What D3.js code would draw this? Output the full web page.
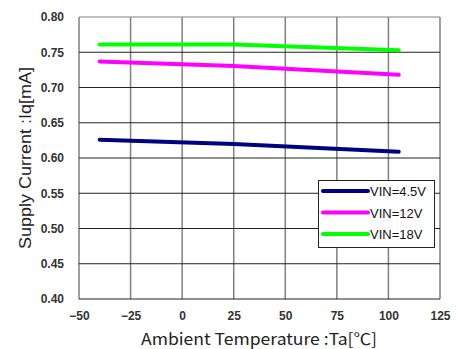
<!DOCTYPE html>
<html>
<head>
<meta charset="utf-8">
<script src="https://cdn.jsdelivr.net/npm/d3@7"></script>
<style>
  html, body { margin: 0; padding: 0; background: #fff; }
  svg { display: block; }
</style>
</head>
<body>
<svg id="chart" width="456" height="349"></svg>
<script>
// Supply current vs. ambient temperature for three input voltages
const temperatures = [-40, 25, 105];
const seriesNames = ["VIN=4.5V", "VIN=12V", "VIN=18V"];
const seriesColors = ["#000080", "#ff00ff", "#00ff00"];
const iqVin4_5 = [0.626, 0.620, 0.609];
const iqVin12 = [0.737, 0.7305, 0.718];
const iqVin18 = [0.761, 0.761, 0.753];
const xTicks = [-50, -25, 0, 25, 50, 75, 100, 125];
const yTicks = [0.40, 0.45, 0.50, 0.55, 0.60, 0.65, 0.70, 0.75, 0.80];

const seriesValues = [iqVin4_5, iqVin12, iqVin18];

const svg = d3.select("#chart");
const plotLeft = 79, plotRight = 440, plotTop = 17, plotBottom = 299;

const x = d3.scaleLinear().domain([-50, 125]).range([plotLeft, plotRight]);
const y = d3.scaleLinear().domain([0.40, 0.80]).range([plotBottom, plotTop]);

// grid: vertical lines grey, horizontal lines dark
svg.append("g").selectAll("line").data(xTicks).join("line")
  .attr("x1", d => x(d)).attr("x2", d => x(d))
  .attr("y1", plotTop).attr("y2", plotBottom)
  .attr("stroke", "#808080").attr("stroke-width", 1.5);

svg.append("g").selectAll("line").data(yTicks).join("line")
  .attr("x1", plotLeft).attr("x2", plotRight)
  .attr("y1", d => y(d)).attr("y2", d => y(d))
  .attr("stroke", d => (d === 0.80 ? "#808080" : "#222"))
  .attr("stroke-width", 1);

// tick labels
const xAxis = d3.axisBottom(x).tickValues(xTicks).tickSize(0).tickPadding(12)
  .tickFormat(d => d < 0 ? "\u2212" + Math.abs(d) : d);
const gx = svg.append("g").attr("transform", `translate(0,${plotBottom})`).call(xAxis);
gx.select(".domain").remove();
gx.selectAll("text").attr("font-family", "Arial, 'Liberation Sans', sans-serif")
  .attr("font-size", 12).attr("font-weight", "bold").attr("fill", "#333");

const yAxis = d3.axisLeft(y).tickValues(yTicks).tickSize(0).tickPadding(15)
  .tickFormat(d3.format(".2f"));
const gy = svg.append("g").attr("transform", `translate(${plotLeft},0)`).call(yAxis);
gy.select(".domain").remove();
gy.selectAll("text").attr("font-family", "Arial, 'Liberation Sans', sans-serif")
  .attr("font-size", 12).attr("font-weight", "bold").attr("fill", "#333");

// series lines
const line = d3.line().x((d, i) => x(temperatures[i])).y(d => y(d));
svg.append("g").selectAll("path").data(seriesValues).join("path")
  .attr("d", d => line(d))
  .attr("fill", "none")
  .attr("stroke", (d, i) => seriesColors[i])
  .attr("stroke-width", 4)
  .attr("stroke-linecap", "round")
  .attr("stroke-linejoin", "round");

// axis titles
svg.append("text")
  .attr("x", 259).attr("y", 345)
  .attr("text-anchor", "middle")
  .attr("font-family", "'Noto Sans CJK JP', 'DejaVu Sans', sans-serif").attr("font-size", 16)
  .attr("textLength", 236).attr("lengthAdjust", "spacingAndGlyphs")
  .attr("fill", "#222")
  .text("Ambient Temperature :Ta[\u2103]");

svg.append("text")
  .attr("transform", `translate(31,158) rotate(-90)`)
  .attr("text-anchor", "middle")
  .attr("font-family", "Arial, 'Liberation Sans', sans-serif").attr("font-size", 16)
  .attr("textLength", 182).attr("lengthAdjust", "spacingAndGlyphs")
  .attr("fill", "#222")
  .text("Supply Current :Iq[mA]");

// legend
const legend = svg.append("g");
legend.append("rect")
  .attr("x", 318.5).attr("y", 180.5).attr("width", 116).attr("height", 67)
  .attr("fill", "#fff").attr("stroke", "#222").attr("stroke-width", 1);
const rows = legend.selectAll("g.row").data(seriesNames).join("g")
  .attr("class", "row")
  .attr("transform", (d, i) => `translate(0,${191 + i * 21.5})`);
rows.append("line")
  .attr("x1", 323).attr("x2", 368).attr("y1", 0).attr("y2", 0)
  .attr("stroke", (d, i) => seriesColors[i]).attr("stroke-width", 4)
  .attr("stroke-linecap", "round");
rows.append("text")
  .attr("x", 370).attr("y", 5)
  .attr("font-family", "Arial, 'Liberation Sans', sans-serif").attr("font-size", 13)
  .attr("fill", "#111")
  .text(d => d);
</script>
</body>
</html>
